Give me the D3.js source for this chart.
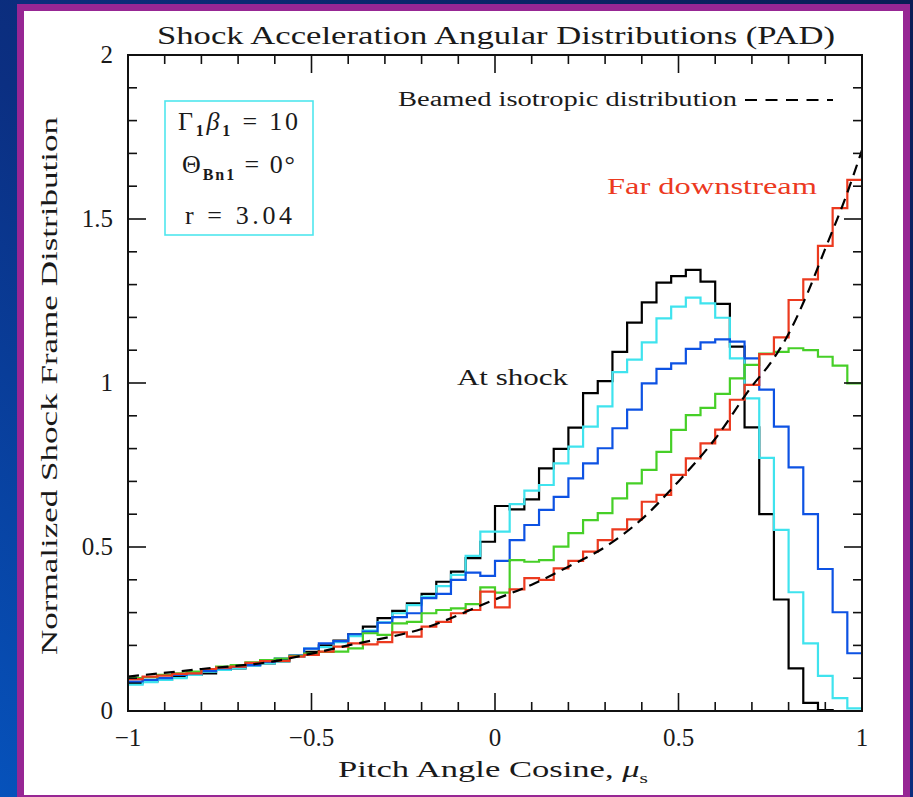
<!DOCTYPE html>
<html>
<head>
<meta charset="utf-8">
<script src="https://cdn.jsdelivr.net/npm/d3@7"></script>
<style>
  html, body { margin: 0; padding: 0; background: #0b2160; }
  svg { display: block; }
  text { font-family: "Liberation Serif", "DejaVu Serif", serif; fill: #1a1a1a; }
</style>
</head>
<body>
<div id="chart"></div>
<script>
// Pitch-angle histograms: 50 bins of width 0.04 spanning mu_s = -1 .. 1
const binEdgesStart = -1;
const binWidth = 0.04;

const atShock = [
  0.085, 0.09, 0.095, 0.105, 0.11, 0.115, 0.125, 0.13, 0.14, 0.145,
  0.155, 0.165, 0.18, 0.2, 0.215, 0.234,
  0.257, 0.283, 0.305, 0.328, 0.357, 0.394, 0.425, 0.466,
  0.516, 0.625, 0.615, 0.645, 0.74, 0.799, 0.864, 0.969,
  1.006, 1.095, 1.184, 1.246, 1.306, 1.326, 1.345, 1.309,
  1.241, 1.111, 0.865, 0.60, 0.34, 0.13, 0.025, 0.003, 0, 0
];
const cyanSeries = [
  0.08, 0.088, 0.095, 0.10, 0.11, 0.12, 0.125, 0.13, 0.138, 0.145,
  0.15, 0.165, 0.19, 0.195, 0.21, 0.228,
  0.245, 0.27, 0.298, 0.323, 0.349, 0.381, 0.415, 0.473,
  0.547, 0.547, 0.631, 0.672, 0.689, 0.755, 0.806, 0.867,
  0.929, 1.033, 1.071, 1.124, 1.197, 1.233, 1.26, 1.243,
  1.199, 1.075, 0.953, 0.772, 0.552, 0.362, 0.206, 0.107, 0.039, 0.008
];
const blueSeries = [
  0.09, 0.095, 0.10, 0.11, 0.115, 0.122, 0.13, 0.135, 0.14, 0.15,
  0.16, 0.17, 0.19, 0.206, 0.213, 0.234,
  0.242, 0.269, 0.286, 0.298, 0.344, 0.357, 0.40, 0.422,
  0.412, 0.458, 0.521, 0.567, 0.613, 0.653, 0.709, 0.755,
  0.801, 0.862, 0.919, 0.999, 1.043, 1.06, 1.104, 1.124,
  1.133, 1.126, 1.075, 0.98, 0.867, 0.743, 0.60, 0.433, 0.301, 0.176
];
const greenSeries = [
  0.10, 0.103, 0.11, 0.115, 0.12, 0.128, 0.135, 0.14, 0.148, 0.155,
  0.16, 0.168, 0.175, 0.18, 0.181, 0.191,
  0.237, 0.232, 0.267, 0.272, 0.298, 0.308, 0.313, 0.326,
  0.377, 0.361, 0.46, 0.455, 0.46, 0.501, 0.542, 0.582,
  0.603, 0.648, 0.694, 0.735, 0.79, 0.857, 0.902, 0.924,
  0.967, 1.014, 1.055, 1.09, 1.095, 1.106, 1.10, 1.08, 1.053, 0.999
];
const farDownstream = [
  0.097, 0.105, 0.108, 0.113, 0.115, 0.128, 0.132, 0.135, 0.147, 0.152,
  0.152, 0.166, 0.171, 0.181, 0.196, 0.206,
  0.203, 0.21, 0.24, 0.227, 0.257, 0.272, 0.298, 0.308,
  0.364, 0.316, 0.371, 0.405, 0.40, 0.435, 0.458, 0.486,
  0.521, 0.554, 0.584, 0.638, 0.659, 0.72, 0.77, 0.816,
  0.858, 0.949, 0.994, 1.088, 1.139, 1.253, 1.316, 1.418, 1.533, 1.619
];

// Beamed isotropic reference curve (sampled)
const isoMu  = [-1, -0.8, -0.6, -0.5, -0.4, -0.2, 0, 0.1, 0.2, 0.3, 0.4, 0.5, 0.6, 0.7, 0.75, 0.8, 0.85, 0.9, 0.95, 1.0];
const isoVal = [0.105, 0.128, 0.152, 0.175, 0.20, 0.25, 0.34, 0.385, 0.44, 0.50, 0.585, 0.70, 0.83, 0.99, 1.06, 1.15, 1.27, 1.41, 1.55, 1.71];

const xMajorTicks = [-1, -0.5, 0, 0.5, 1];
const xMajorLabels = ["\u22121", "\u22120.5", "0", "0.5", "1"];
const yMajorTicks = [0, 0.5, 1, 1.5, 2];
const yMajorLabels = ["0", "0.5", "1", "1.5", "2"];

const seriesList = [
  { values: atShock,       color: "#000000" },
  { values: cyanSeries,    color: "#3fe3ee" },
  { values: blueSeries,    color: "#0d52e3" },
  { values: greenSeries,   color: "#46cf27" },
  { values: farDownstream, color: "#ec3a1f" }
];

const W = 913, H = 797;
const svg = d3.select("#chart").append("svg").attr("width", W).attr("height", H);

// page background and frame
const defs = svg.append("defs");
const grad = defs.append("linearGradient").attr("id", "bg")
  .attr("x1", "1").attr("y1", "0").attr("x2", "0").attr("y2", "1");
grad.append("stop").attr("offset", "0").attr("stop-color", "#0a1d55");
grad.append("stop").attr("offset", "0.55").attr("stop-color", "#0b2f82");
grad.append("stop").attr("offset", "1").attr("stop-color", "#0652bb");
svg.append("rect").attr("width", W).attr("height", H).attr("fill", "url(#bg)");
svg.append("rect").attr("x", 17).attr("y", 4).attr("width", 893).attr("height", 800).attr("fill", "#972694");
svg.append("rect").attr("x", 24).attr("y", 11).attr("width", 879).attr("height", 784).attr("fill", "#ffffff");

const x = d3.scaleLinear().domain([-1, 1]).range([128, 862]);
const y = d3.scaleLinear().domain([0, 2]).range([711, 55]);

defs.append("clipPath").attr("id", "plotclip").append("rect")
  .attr("x", x(-1)).attr("y", y(2)).attr("width", x(1) - x(-1)).attr("height", y(0) - y(2));

const plot = svg.append("g").attr("clip-path", "url(#plotclip)");

// step histograms
const stepLine = d3.line().x(d => x(d[0])).y(d => y(d[1])).curve(d3.curveStepAfter);
seriesList.forEach(s => {
  const pts = s.values.map((v, i) => [binEdgesStart + i * binWidth, v]);
  pts.push([1, s.values[s.values.length - 1]]);
  plot.append("path").attr("d", stepLine(pts))
    .attr("fill", "none").attr("stroke", s.color).attr("stroke-width", 2.2)
    .attr("stroke-linejoin", "miter");
});

// dashed isotropic curve
const isoLine = d3.line().x(d => x(d[0])).y(d => y(d[1])).curve(d3.curveMonotoneX);
plot.append("path").attr("d", isoLine(isoMu.map((m, i) => [m, isoVal[i]])))
  .attr("fill", "none").attr("stroke", "#000").attr("stroke-width", 2.2)
  .attr("stroke-dasharray", "11,7");

// frame
svg.append("rect").attr("x", x(-1)).attr("y", y(2))
  .attr("width", x(1) - x(-1)).attr("height", y(0) - y(2))
  .attr("fill", "none").attr("stroke", "#111").attr("stroke-width", 2);

// ticks
const ticksG = svg.append("g").attr("stroke", "#111").attr("stroke-width", 1.6);
const xTicks = d3.range(-10, 11).map(i => i / 10);
xTicks.forEach(t => {
  const major = Math.abs(t * 2 - Math.round(t * 2)) < 1e-9;
  const len = major ? 18 : 9;
  ticksG.append("line").attr("x1", x(t)).attr("x2", x(t)).attr("y1", y(0)).attr("y2", y(0) - len);
  ticksG.append("line").attr("x1", x(t)).attr("x2", x(t)).attr("y1", y(2)).attr("y2", y(2) + len);
});
const yTicks = d3.range(0, 21).map(i => i / 10);
yTicks.forEach(t => {
  const major = Math.abs(t * 2 - Math.round(t * 2)) < 1e-9;
  const len = major ? 18 : 9;
  ticksG.append("line").attr("y1", y(t)).attr("y2", y(t)).attr("x1", x(-1)).attr("x2", x(-1) + len);
  ticksG.append("line").attr("y1", y(t)).attr("y2", y(t)).attr("x1", x(1)).attr("x2", x(1) - len);
});

// tick labels
svg.append("g").selectAll("text").data(xMajorTicks).join("text")
  .attr("x", d => x(d)).attr("y", 746)
  .attr("text-anchor", "middle").attr("font-size", 25)
  .text((d, i) => xMajorLabels[i]);
svg.append("g").selectAll("text").data(yMajorTicks).join("text")
  .attr("x", 113).attr("y", d => y(d) + 8)
  .attr("text-anchor", "end").attr("font-size", 25)
  .text((d, i) => yMajorLabels[i]);

// title
svg.append("text").attr("x", 157).attr("y", 44).attr("font-size", 25)
  .attr("textLength", 678).attr("lengthAdjust", "spacingAndGlyphs")
  .text("Shock Acceleration Angular Distributions (PAD)");

// axis titles
const xl = svg.append("text").attr("x", 338).attr("y", 777).attr("font-size", 24);
xl.append("tspan").text("Pitch Angle Cosine, ");
xl.append("tspan").attr("font-style", "italic").text("\u03bc");
xl.append("tspan").attr("font-size", 15).attr("dy", 6).text("s");
xl.attr("textLength", 310).attr("lengthAdjust", "spacingAndGlyphs");

svg.append("text")
  .attr("transform", "translate(57,386) rotate(-90)")
  .attr("text-anchor", "middle").attr("font-size", 24)
  .attr("textLength", 538).attr("lengthAdjust", "spacingAndGlyphs")
  .text("Normalized Shock Frame Distribution");

// parameter box
svg.append("rect").attr("x", 165).attr("y", 101).attr("width", 148).attr("height", 134)
  .attr("fill", "none").attr("stroke", "#4fe6ee").attr("stroke-width", 1.6);
const p1 = svg.append("text").attr("x", 178).attr("y", 130).attr("font-size", 26);
p1.append("tspan").text("\u0393");
p1.append("tspan").attr("font-size", 16).attr("font-weight", "bold").attr("dy", 6).text("1");
p1.append("tspan").attr("font-style", "italic").attr("dy", -6).text("\u03b2");
p1.append("tspan").attr("font-size", 16).attr("font-weight", "bold").attr("dy", 6).text("1");
p1.append("tspan").attr("dy", -6).text(" = 10");
p1.attr("textLength", 120).attr("lengthAdjust", "spacing");
const p2 = svg.append("text").attr("x", 182).attr("y", 173).attr("font-size", 26);
p2.append("tspan").text("\u0398");
p2.append("tspan").attr("font-size", 16).attr("font-weight", "bold").attr("dy", 7).text("Bn1");
p2.append("tspan").attr("dy", -7).text(" = 0\u00b0");
p2.attr("textLength", 113).attr("lengthAdjust", "spacing");
svg.append("text").attr("x", 185).attr("y", 224).attr("font-size", 26)
  .attr("textLength", 107).attr("lengthAdjust", "spacing")
  .text("r = 3.04");

// annotations
svg.append("text").attr("x", 398).attr("y", 106).attr("font-size", 20)
  .attr("textLength", 339).attr("lengthAdjust", "spacingAndGlyphs")
  .text("Beamed isotropic distribution");
svg.append("line").attr("x1", 745).attr("x2", 833).attr("y1", 100).attr("y2", 100)
  .attr("stroke", "#000").attr("stroke-width", 2).attr("stroke-dasharray", "12,8.5");
svg.append("text").attr("x", 607).attr("y", 194).attr("font-size", 24)
  .style("fill", "#ec3a1f")
  .attr("textLength", 210).attr("lengthAdjust", "spacingAndGlyphs")
  .text("Far downstream");
svg.append("text").attr("x", 457).attr("y", 385).attr("font-size", 24)
  .attr("textLength", 111).attr("lengthAdjust", "spacingAndGlyphs")
  .text("At shock");
</script>
</body>
</html>
